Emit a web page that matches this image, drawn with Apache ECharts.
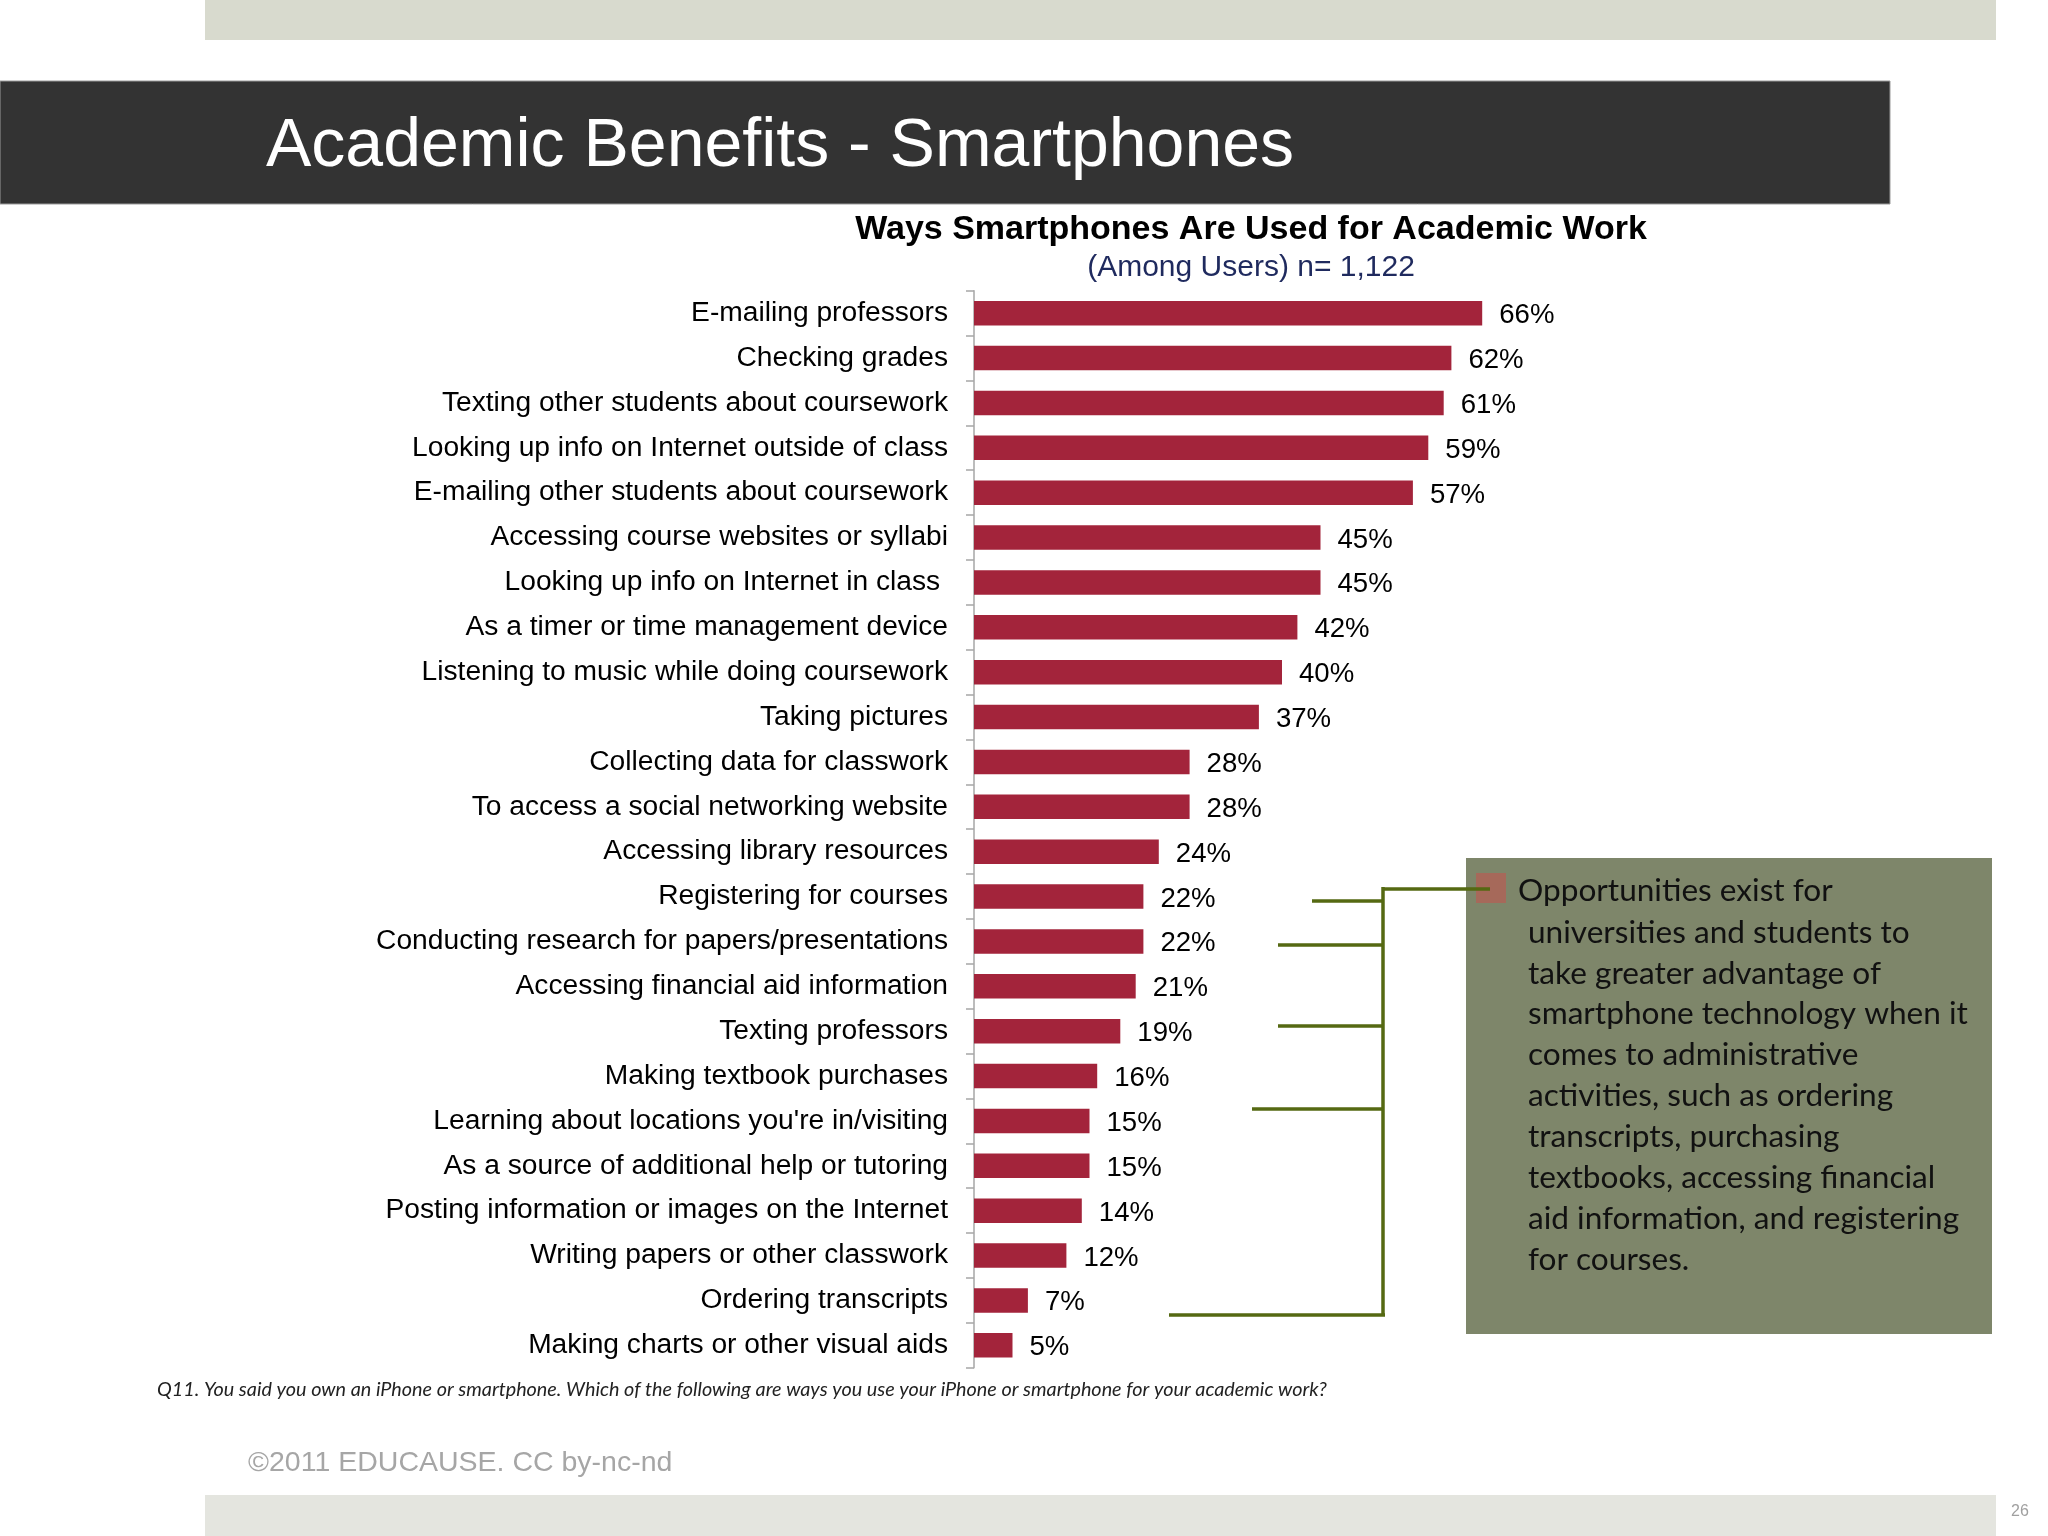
<!DOCTYPE html>
<html>
<head>
<meta charset="utf-8">
<script src="https://cdn.jsdelivr.net/npm/echarts@6/dist/echarts.min.js"></script>
<style>
html,body{margin:0;padding:0;background:#fff;}
#chart{width:2048px;height:1536px;}
</style>
</head>
<body>
<div id="chart"></div>
<script>
const categories = [
  "E-mailing professors",
  "Checking grades",
  "Texting other students about coursework",
  "Looking up info on Internet outside of class",
  "E-mailing other students about coursework",
  "Accessing course websites or syllabi",
  "Looking up info on Internet in class ",
  "As a timer or time management device",
  "Listening to music while doing coursework",
  "Taking pictures",
  "Collecting data for classwork",
  "To access a social networking website",
  "Accessing library resources",
  "Registering for courses",
  "Conducting research for papers/presentations",
  "Accessing financial aid information",
  "Texting professors",
  "Making textbook purchases",
  "Learning about locations you're in/visiting",
  "As a source of additional help or tutoring",
  "Posting information or images on the Internet",
  "Writing papers or other classwork",
  "Ordering transcripts",
  "Making charts or other visual aids"
];
const values = [66, 62, 61, 59, 57, 45, 45, 42, 40, 37, 28, 28, 24, 22, 22, 21, 19, 16, 15, 15, 14, 12, 7, 5];

const slideTitle = "Academic Benefits - Smartphones";
const chartTitle = "Ways Smartphones Are Used for Academic Work";
const chartSubtitle = "(Among Users) n= 1,122";
const noteFirstLine = "Opportunities exist for";
const noteRest = [
  "universities and students to",
  "take greater advantage of",
  "smartphone technology when it",
  "comes to administrative",
  "activities, such as ordering",
  "transcripts, purchasing",
  "textbooks, accessing financial",
  "aid information, and registering",
  "for courses."
];
const footnote = "Q11. You said you own an iPhone or smartphone. Which of the following are ways you use your iPhone or smartphone for your academic work?";
const copyright = "\u00A92011 EDUCAUSE. CC by-nc-nd";
const pageNumber = "26";

const chart = echarts.init(document.getElementById('chart'), null, {renderer: 'canvas'});

const lineColor = '#556912';
const connectors = [
  [[1383, 889], [1490, 889]],
  [[1383, 887], [1383, 1316]],
  [[1312, 901], [1383, 901]],
  [[1278, 945], [1383, 945]],
  [[1278, 1026], [1383, 1026]],
  [[1252, 1109], [1383, 1109]],
  [[1169, 1315], [1385, 1315]]
];

const graphics = [
  {type: 'rect', shape: {x: 205, y: 0, width: 1791, height: 40}, style: {fill: '#d8dace'}, z: 0},
  {type: 'rect', shape: {x: 205, y: 1495, width: 1791, height: 41}, style: {fill: '#e4e5df'}, z: 0},
  {type: 'rect', shape: {x: 0, y: 81, width: 1890, height: 123}, style: {fill: '#333333', stroke: '#9a9a9a', lineWidth: 1}, z: 0},
  {type: 'text', x: 266, y: 147, style: {text: slideTitle, fill: '#ffffff', font: '68px "Liberation Sans", Arial, sans-serif', textVerticalAlign: 'middle', textAlign: 'left'}, z: 2},
  {type: 'text', x: 1251, y: 230, style: {text: chartTitle, fill: '#000000', font: 'bold 34px "Liberation Sans", Arial, sans-serif', textVerticalAlign: 'middle', textAlign: 'center'}, z: 2},
  {type: 'text', x: 1251, y: 268, style: {text: chartSubtitle, fill: '#1f2a5e', font: '30px "Liberation Sans", Arial, sans-serif', textVerticalAlign: 'middle', textAlign: 'center'}, z: 2},
  {type: 'rect', shape: {x: 1466, y: 858, width: 526, height: 476}, style: {fill: '#7e866a'}, z: 1},
  {type: 'rect', shape: {x: 1476, y: 873, width: 30, height: 30}, style: {fill: '#a6695a'}, z: 2},
  {type: 'text', x: 1518, y: 891, style: {text: noteFirstLine, fill: '#111111', font: '31.6px Lato, "Open Sans", sans-serif', textVerticalAlign: 'middle', textAlign: 'left'}, z: 3},
  {type: 'text', x: 1528, y: 912, style: {text: noteRest.join('\n'), fill: '#111111', font: '31.6px Lato, "Open Sans", sans-serif', lineHeight: 40.9, textVerticalAlign: 'top', textAlign: 'left'}, z: 3},
  {type: 'text', x: 157, y: 1390, style: {text: footnote, fill: '#222222', font: 'italic 19.8px Lato, "Open Sans", sans-serif', textVerticalAlign: 'middle', textAlign: 'left'}, z: 2},
  {type: 'text', x: 248, y: 1463, style: {text: copyright, fill: '#a6a6a6', font: '28.5px "Liberation Sans", Arial, sans-serif', textVerticalAlign: 'middle', textAlign: 'left'}, z: 2},
  {type: 'text', x: 2020, y: 1512, style: {text: pageNumber, fill: '#a0a0a0', font: '16px "Liberation Sans", Arial, sans-serif', textVerticalAlign: 'middle', textAlign: 'center'}, z: 2}
];
connectors.forEach(function (c) {
  graphics.push({type: 'line', shape: {x1: c[0][0], y1: c[0][1], x2: c[1][0], y2: c[1][1]}, style: {stroke: lineColor, lineWidth: 3.5}, z: 4});
});

const option = {
  backgroundColor: '#ffffff',
  animation: false,
  grid: {left: 974, top: 290.7, width: 770, height: 1077, containLabel: false},
  xAxis: {type: 'value', min: 0, max: 100, show: false, splitLine: {show: false}},
  yAxis: {
    type: 'category',
    data: categories,
    inverse: true,
    axisLine: {show: true, lineStyle: {color: '#a6a6a6', width: 1.5}},
    axisTick: {show: true, length: 8, lineStyle: {color: '#a6a6a6', width: 1.5}},
    axisLabel: {color: '#000000', fontSize: 28.2, fontFamily: '"Liberation Sans", Arial, sans-serif', margin: 26, padding: [5, 0, 0, 0]}
  },
  series: [{
    type: 'bar',
    data: values,
    barWidth: 24.5,
    itemStyle: {color: '#a3243b'},
    label: {show: true, position: 'right', distance: 17, offset: [0, 2.5], formatter: '{c}%', color: '#000000', fontSize: 27.6, fontFamily: '"Liberation Sans", Arial, sans-serif'}
  }],
  graphic: graphics
};
chart.setOption(option);
</script>
</body>
</html>
